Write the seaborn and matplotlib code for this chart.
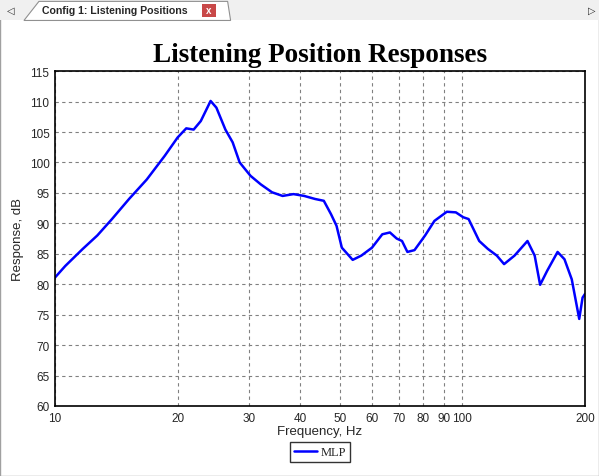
import pandas as pd
import matplotlib.pyplot as plt
import seaborn as sns
from matplotlib.patches import Rectangle, Polygon

freq = [10, 10.6, 11.7, 12.7, 13.8, 15.2, 16.8, 18.6, 20, 21.0, 21.9, 22.8, 24.1, 24.9,
        26.2, 27.3, 28.4, 30.2, 32.0, 34.1, 36.2, 38.5, 40.9, 43.5, 45.7, 47.6, 49.1,
        50.6, 53.8, 56.5, 60, 63.6, 66.4, 69, 71.1, 73.3, 76.3, 81.0, 85.4, 91.6, 96.4,
        100.5, 103.6, 110, 115.5, 121.5, 126.6, 134.3, 144.5, 150.5, 155.2, 161.5,
        171.3, 178.1, 185.6, 193.6, 197.3, 200]
response = [81.1, 83.0, 85.8, 88.0, 90.7, 94.0, 97.2, 101.1, 104.1, 105.6, 105.4, 106.8,
            110.1, 109.0, 105.4, 103.3, 100.0, 97.8, 96.4, 95.1, 94.5, 94.8, 94.5, 94.0,
            93.7, 91.5, 89.6, 86.0, 84.0, 84.7, 86.0, 88.2, 88.5, 87.5, 87.1, 85.3, 85.6,
            88.0, 90.4, 91.9, 91.8, 91.0, 90.7, 87.1, 85.8, 84.7, 83.3, 84.7, 87.1, 84.7,
            79.9, 82.2, 85.3, 84.1, 80.8, 74.3, 77.8, 78.4]
xticks = [10, 20, 30, 40, 50, 60, 70, 80, 90, 100, 200]
yticks = list(range(60, 116, 5))

df = pd.DataFrame({"Frequency": freq, "Response": response})

sns.set_style("white")
plt.rcParams["font.family"] = ["Liberation Sans", "DejaVu Sans"]

fig = plt.figure(figsize=(5.99, 4.77), dpi=100)
fig.patch.set_facecolor("white")

# window frame and tab
fig.patches.append(Rectangle((0, 0), 1, 1, transform=fig.transFigure, fill=False,
                             edgecolor="#a0a0a0", lw=1))
fig.patches.append(Rectangle((0, 0.955), 1, 0.045, transform=fig.transFigure,
                             facecolor="#f0f0f0", edgecolor="none"))
fig.patches.append(Polygon([(0.04, 0.955), (0.065, 0.995), (0.38, 0.995), (0.385, 0.955)],
                           closed=True, transform=fig.transFigure, facecolor="white",
                           edgecolor="#909090", lw=0.8))
fig.text(0.07, 0.976, "Config 1: Listening Positions", fontsize=7.6, fontweight="bold",
         va="center")
fig.patches.append(Rectangle((0.338, 0.963), 0.022, 0.026, transform=fig.transFigure,
                             facecolor="#c84848", edgecolor="none"))
fig.text(0.349, 0.976, "x", fontsize=7, color="white", fontweight="bold",
         ha="center", va="center")
fig.text(0.012, 0.978, "◁", fontsize=7, va="center")
fig.text(0.982, 0.978, "▷", fontsize=7, va="center")

ax = fig.add_axes([0.0918, 0.1468, 0.8848, 0.702])
sns.lineplot(data=df, x="Frequency", y="Response", color="#0000ff", lw=1.8,
             label="MLP", ax=ax)
ax.set_xscale("log")
ax.set_xlim(10, 200)
ax.set_ylim(60, 115)
ax.set_xticks(xticks)
ax.set_xticklabels([str(t) for t in xticks], fontsize=8.5)
ax.minorticks_off()
ax.set_yticks(yticks)
ax.set_yticklabels([str(t) for t in yticks], fontsize=8.5)
ax.grid(True, color="#808080", ls=(0, (3, 3)), lw=0.8)
for s in ax.spines.values():
    s.set_color("black")
    s.set_linewidth(1.2)
ax.tick_params(length=3, pad=1)
ax.set_xlabel("Frequency, Hz", fontsize=9.5, labelpad=1)
ax.set_ylabel("Response, dB", fontsize=9.5, labelpad=4)
ax.set_title("Listening Position Responses", fontsize=19.5, fontweight="bold",
             family="Liberation Serif", color="black", pad=7)
leg = ax.legend(loc="upper center", bbox_to_anchor=(0.5, -0.09), frameon=True,
                fancybox=False, edgecolor="black", prop={"family": "Liberation Serif", "size": 9},
                handlelength=1.8, handletextpad=0.3, borderpad=0.3)
leg.get_frame().set_linewidth(1)

plt.savefig("out.png", dpi=100)
